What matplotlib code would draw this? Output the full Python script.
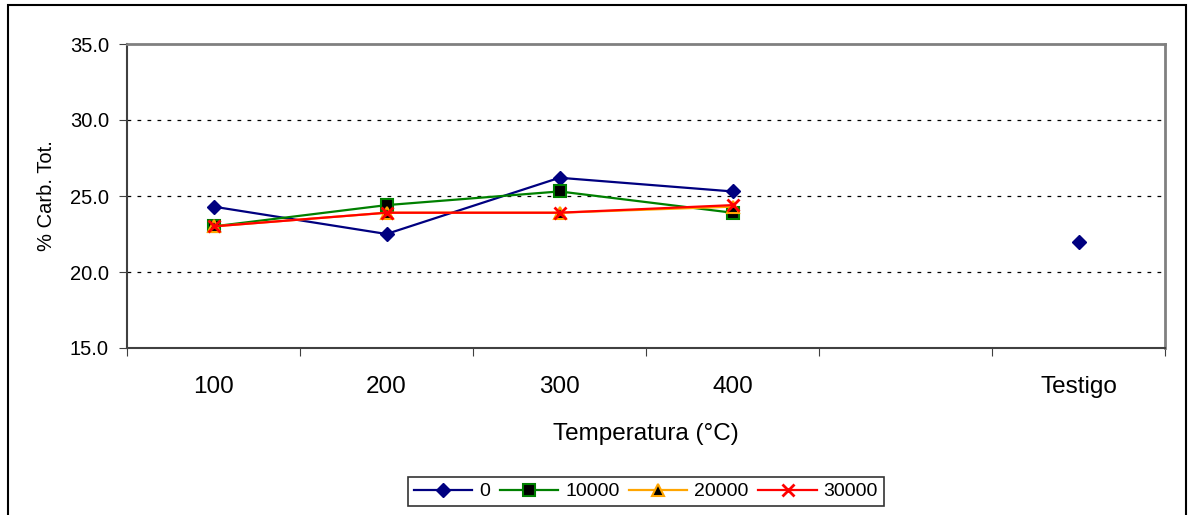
import matplotlib
matplotlib.use("Agg")
import matplotlib.pyplot as plt
import numpy as np
from matplotlib.patches import Rectangle

plt.rcParams['font.family'] = ['Liberation Sans', 'DejaVu Sans']

categories = ["100", "200", "300", "400", "", "Testigo"]
s0 = [24.3, 22.5, 26.2, 25.3, np.nan, 22.0]
s10000 = [23.0, 24.4, 25.3, 23.9, np.nan, np.nan]
s20000 = [23.0, 23.9, 23.9, 24.3, np.nan, np.nan]
s30000 = [23.0, 23.9, 23.9, 24.4, np.nan, np.nan]
series_names = ["0", "10000", "20000", "30000"]

fig = plt.figure(figsize=(11.88, 5.15), dpi=100)
ax = fig.add_axes([127/1188, 1-348/515, (1165-127)/1188, (348-44)/515])

# outer chart frame
fig.patches.append(Rectangle((8/1188, -0.05), (1186-8)/1188, 1.05 - 5/515,
                             transform=fig.transFigure, fill=False,
                             edgecolor='black', linewidth=1.5))

x = np.arange(len(categories))
ax.plot(x, s0, color='#000080', lw=1.6, marker='D', ms=7,
        mfc='#000080', mec='#000080', label=series_names[0], zorder=3)
ax.plot(x, s10000, color='#008000', lw=1.6, marker='s', ms=8,
        mfc='black', mec='#008000', mew=1.5, label=series_names[1], zorder=3)
ax.plot(x, s20000, color='#FFA500', lw=1.6, marker='^', ms=8,
        mfc='black', mec='#FFA500', mew=1.5, label=series_names[2], zorder=3)
ax.plot(x, s30000, color='#FF0000', lw=1.6, marker='x', ms=9,
        mew=2, label=series_names[3], zorder=4)

ax.set_xlim(-0.5, len(categories) - 0.5)
ax.set_ylim(15, 35)
ax.set_yticks([15, 20, 25, 30, 35])
ax.set_yticklabels([f"{v:.1f}" for v in [15, 20, 25, 30, 35]], fontsize=14.5)
for v in [20, 25, 30]:
    ax.axhline(v, color='black', lw=0.9, ls=(0, (3, 5)), zorder=1)

ax.set_xticks(np.arange(-0.5, len(categories)), minor=False)
ax.set_xticklabels([])
ax.set_xticks(x, minor=True)
ax.set_xticklabels(categories, minor=True, fontsize=17.5)
ax.tick_params(axis='x', which='minor', length=0, pad=20)
ax.tick_params(axis='x', which='major', length=6, direction='out', color='#404040')
ax.tick_params(axis='y', length=6, direction='out', color='#404040', pad=7)

for side in ['top', 'right']:
    ax.spines[side].set_color('#808080')
    ax.spines[side].set_linewidth(2)
for side in ['left', 'bottom']:
    ax.spines[side].set_color('#404040')
    ax.spines[side].set_linewidth(1.5)

ax.set_xlabel("Temperatura (°C)", fontsize=17.5, labelpad=18)
ax.set_ylabel("% Carb. Tot.", fontsize=14.5, labelpad=10)

leg = fig.legend(loc='center', bbox_to_anchor=(646/1188, 1-491.5/515), ncol=4,
                 fontsize=14, frameon=True, fancybox=False, handlelength=3.0,
                 columnspacing=0.5, handletextpad=0.35, borderpad=0.3,
                 borderaxespad=0, edgecolor='black')
leg.get_frame().set_linewidth(1.2)

fig.savefig("out.png", dpi=100)
